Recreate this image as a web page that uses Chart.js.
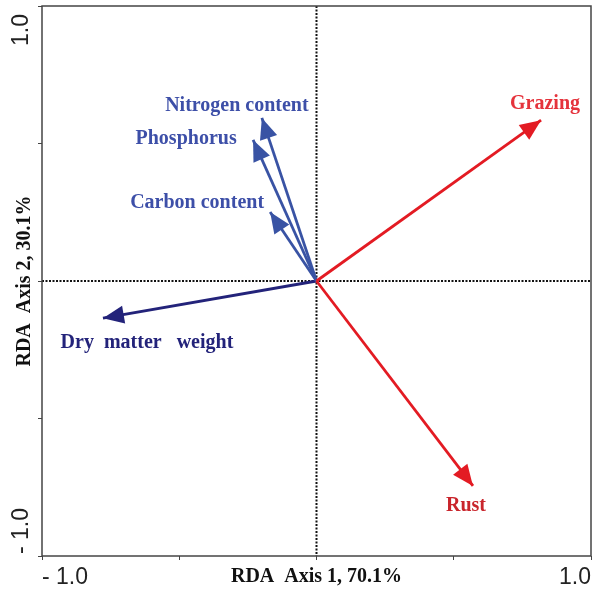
<!DOCTYPE html>
<html>
<head>
<meta charset="utf-8">
<script src="https://cdn.jsdelivr.net/npm/chart.js@4.4.1/dist/chart.umd.min.js"></script>
<style>
  html, body { margin: 0; padding: 0; background: #fff; }
  #wrap { width: 593px; height: 591px; position: relative; }
</style>
</head>
<body>
<div id="wrap"><canvas id="rdaChart"></canvas></div>
<script>
// RDA biplot - variable vectors (axis 1, axis 2 scores)
const varNames = ['Grazing', 'Rust', 'Nitrogen content', 'Phosphorus', 'Carbon content', 'Dry  matter   weight'];
const axis1Scores = [0.818, 0.570, -0.199, -0.231, -0.169, -0.778];
const axis2Scores = [0.585, -0.745, 0.593, 0.513, 0.251, -0.135];
const axisTicks = [-1, -0.5, 0, 0.5, 1];
const axisTitles = ['RDA  Axis 1, 70.1%', 'RDA  Axis 2, 30.1%'];

const lineColors = ['#e31b23', '#e31b23', '#3953a4', '#3953a4', '#3953a4', '#23237a'];
const labelColors = ['#e5333c', '#c9252c', '#3d4fa8', '#3d4fa8', '#3d4fa8', '#23237a'];
// label offset from arrow tip in pixels
const labelOffsets = [[4, -16], [-7, 20], [-25, -12], [-67, -1], [-73, -9], [44, 25]];

const datasets = varNames.map((name, i) => ({
    label: name,
    data: [{ x: 0, y: 0 }, { x: axis1Scores[i], y: axis2Scores[i] }],
    showLine: true,
    borderColor: lineColors[i],
    backgroundColor: lineColors[i],
    borderWidth: 2.8,
    pointRadius: 0
}));

const tickFontCss = '23px "Liberation Sans", Arial, sans-serif';
const endLabel = v => (v === 1 ? '1.0' : (v === -1 ? '- 1.0' : ''));

const biplotPlugin = {
    id: 'biplot',
    beforeDatasetsDraw(chart) {
        const { ctx, chartArea: a, scales } = chart;
        const x0 = scales.x.getPixelForValue(0);
        const y0 = scales.y.getPixelForValue(0);
        ctx.save();
        ctx.strokeStyle = '#111';
        ctx.lineWidth = 2;
        ctx.setLineDash([2, 1.5]);
        ctx.beginPath();
        ctx.moveTo(x0, a.top); ctx.lineTo(x0, a.bottom);
        ctx.moveTo(a.left, y0); ctx.lineTo(a.right, y0);
        ctx.stroke();
        ctx.restore();
    },
    afterDatasetsDraw(chart) {
        const { ctx, chartArea: a, scales } = chart;
        ctx.save();
        // frame
        ctx.strokeStyle = '#444';
        ctx.lineWidth = 1.5;
        ctx.strokeRect(a.left, a.top, a.right - a.left, a.bottom - a.top);

        // rotated y end labels, aligned inward
        ctx.font = tickFontCss;
        ctx.fillStyle = '#222';
        ctx.textBaseline = 'middle';
        [1, -1].forEach(v => {
            const py = scales.y.getPixelForValue(v);
            ctx.save();
            ctx.translate(22, py);
            ctx.rotate(-Math.PI / 2);
            ctx.textAlign = v === 1 ? 'right' : 'left';
            ctx.fillText(endLabel(v), v === 1 ? -8 : 2, 0);
            ctx.restore();
        });

        chart.data.datasets.forEach((ds, i) => {
            const pts = chart.getDatasetMeta(i).data;
            const p0 = pts[0], p1 = pts[1];
            const ang = Math.atan2(p1.y - p0.y, p1.x - p0.x);
            const len = 21, half = 9;
            ctx.fillStyle = lineColors[i];
            ctx.beginPath();
            ctx.moveTo(p1.x, p1.y);
            ctx.lineTo(p1.x - len * Math.cos(ang) + half * Math.sin(ang), p1.y - len * Math.sin(ang) - half * Math.cos(ang));
            ctx.lineTo(p1.x - len * Math.cos(ang) - half * Math.sin(ang), p1.y - len * Math.sin(ang) + half * Math.cos(ang));
            ctx.closePath();
            ctx.fill();

            ctx.font = 'bold 20px "Liberation Serif", "Times New Roman", serif';
            ctx.fillStyle = labelColors[i];
            ctx.textAlign = 'center';
            ctx.textBaseline = 'middle';
            ctx.fillText(ds.label, p1.x + labelOffsets[i][0], p1.y + labelOffsets[i][1]);
        });
        ctx.restore();
    }
};

const tickFont = { family: '"Liberation Sans", Arial, sans-serif', size: 23 };
const titleFont = { family: '"Liberation Serif", "Times New Roman", serif', size: 20, weight: 'bold' };

new Chart(document.getElementById('rdaChart'), {
    type: 'scatter',
    data: { datasets },
    options: {
        responsive: true,
        maintainAspectRatio: false,
        animation: false,
        layout: { padding: { top: 6, right: 2, left: 0, bottom: 0 } },
        plugins: { legend: { display: false }, tooltip: { enabled: false } },
        scales: {
            x: {
                min: -1, max: 1,
                afterBuildTicks: s => { s.ticks = axisTicks.map(v => ({ value: v })); },
                afterFit: s => { s.height = 35; s.paddingLeft = 0; s.paddingRight = 0; },
                grid: { drawOnChartArea: false, tickLength: 4, color: '#444' },
                border: { display: false },
                ticks: { align: 'inner', padding: 4, color: '#222', font: tickFont, callback: endLabel, autoSkip: false, maxRotation: 0 },
                title: { display: true, text: axisTitles[0], color: '#111', font: titleFont, padding: { top: 0, bottom: 2 } }
            },
            y: {
                min: -1, max: 1,
                afterBuildTicks: s => { s.ticks = axisTicks.map(v => ({ value: v })); },
                afterFit: s => { s.width = 42; s.paddingTop = 0; s.paddingBottom = 0; },
                grid: { drawOnChartArea: false, tickLength: 4, color: '#444' },
                border: { display: false },
                ticks: { display: false },
                title: { display: true, text: axisTitles[1], color: '#111', font: titleFont, padding: { top: 13, bottom: 0 } }
            }
        }
    },
    plugins: [biplotPlugin]
});
</script>
</body>
</html>
